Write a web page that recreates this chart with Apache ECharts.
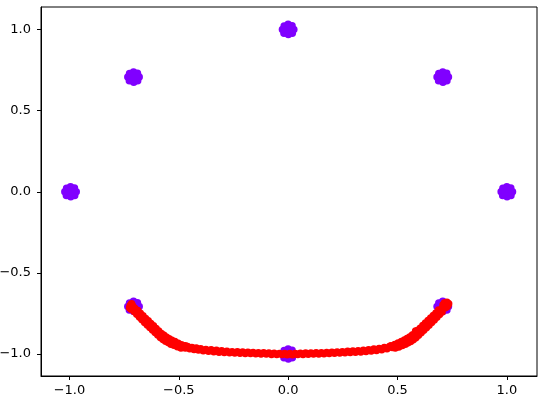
<!DOCTYPE html>
<html>
<head>
<meta charset="utf-8">
<script src="https://cdn.jsdelivr.net/npm/echarts@6/dist/echarts.min.js"></script>
<style>html,body{margin:0;padding:0;background:#fff}#c{width:544px;height:403px}</style>
</head>
<body>
<div id="c"></div>
<script>
const xTicks = [-1.0, -0.5, 0.0, 0.5, 1.0];
const yTicks = [-1.0, -0.5, 0.0, 0.5, 1.0];

const purplePoints = [
  // (0, 1)
  [0.000,1.000],[0.010,1.008],[-0.010,1.007],[-0.009,0.991],[0.011,0.992],[0.026,1.000],[0.018,1.023],[0.000,1.032],[-0.018,1.022],[-0.026,1.001],[-0.019,0.978],[0.001,0.969],[0.019,0.978],
  // (0.707, 0.707)
  [0.707,0.707],[0.717,0.715],[0.697,0.714],[0.698,0.698],[0.718,0.699],[0.733,0.707],[0.725,0.730],[0.707,0.739],[0.689,0.729],[0.681,0.708],[0.688,0.685],[0.708,0.676],[0.726,0.685],
  // (-0.707, 0.707)
  [-0.707,0.707],[-0.697,0.715],[-0.717,0.714],[-0.716,0.698],[-0.696,0.699],[-0.681,0.707],[-0.689,0.730],[-0.707,0.739],[-0.725,0.729],[-0.733,0.708],[-0.726,0.685],[-0.706,0.676],[-0.688,0.685],
  // (-1, 0)
  [-0.995,0.000],[-0.985,0.008],[-1.005,0.007],[-1.004,-0.009],[-0.984,-0.008],[-0.969,0.000],[-0.977,0.023],[-0.995,0.032],[-1.013,0.022],[-1.021,0.001],[-1.014,-0.022],[-0.994,-0.031],[-0.976,-0.022],
  // (1, 0)
  [1.000,0.000],[1.010,0.008],[0.990,0.007],[0.991,-0.009],[1.011,-0.008],[1.026,0.000],[1.018,0.023],[1.000,0.032],[0.982,0.022],[0.974,0.001],[0.981,-0.022],[1.001,-0.031],[1.019,-0.022],
  // (-0.707, -0.707)
  [-0.707,-0.707],[-0.697,-0.699],[-0.717,-0.700],[-0.716,-0.716],[-0.696,-0.715],[-0.681,-0.707],[-0.689,-0.684],[-0.707,-0.675],[-0.725,-0.685],[-0.733,-0.706],[-0.726,-0.729],[-0.706,-0.738],[-0.688,-0.729],
  // (0, -1)
  [0.000,-1.000],[0.010,-0.992],[-0.010,-0.993],[-0.009,-1.009],[0.011,-1.008],[0.026,-1.000],[0.018,-0.977],[0.000,-0.968],[-0.018,-0.978],[-0.026,-0.999],[-0.019,-1.022],[0.001,-1.031],[0.019,-1.022],
  // (0.707, -0.707)
  [0.707,-0.707],[0.717,-0.699],[0.697,-0.700],[0.698,-0.716],[0.718,-0.715],[0.733,-0.707],[0.725,-0.684],[0.707,-0.675],[0.689,-0.685],[0.681,-0.706],[0.688,-0.729],[0.708,-0.738],[0.726,-0.729]
];

const redPoints = [
  [-0.722,-0.700],[-0.716,-0.690],[-0.708,-0.712],[-0.725,-0.715],[-0.712,-0.702],[-0.702,-0.718],[-0.718,-0.724],
  [-0.700,-0.722],[-0.695,-0.741],[-0.690,-0.734],[-0.684,-0.758],[-0.678,-0.753],[-0.672,-0.777],[-0.666,-0.767],
  [-0.660,-0.785],[-0.654,-0.787],[-0.648,-0.806],[-0.642,-0.798],[-0.636,-0.822],[-0.630,-0.814],[-0.624,-0.836],
  [-0.618,-0.832],[-0.612,-0.853],[-0.606,-0.848],[-0.600,-0.868],[-0.593,-0.863],[-0.586,-0.884],[-0.579,-0.880],
  [-0.572,-0.900],[-0.565,-0.894],[-0.558,-0.913],[-0.550,-0.910],[-0.542,-0.928],[-0.534,-0.921],[-0.526,-0.937],
  [-0.704,-0.738],[-0.692,-0.754],[-0.680,-0.772],[-0.668,-0.788],[-0.656,-0.805],[-0.644,-0.820],[-0.632,-0.836],
  [-0.620,-0.851],[-0.608,-0.867],[-0.596,-0.882],[-0.584,-0.898],[-0.572,-0.910],[-0.560,-0.921],
  [-0.548,-0.929],[-0.536,-0.939],[-0.522,-0.946],[-0.506,-0.955],[-0.490,-0.962],
  [-0.688,-0.731],[-0.676,-0.748],[-0.664,-0.764],[-0.652,-0.780],[-0.640,-0.795],[-0.628,-0.811],[-0.616,-0.826],
  [-0.604,-0.842],[-0.592,-0.857],[-0.580,-0.873],[-0.568,-0.884],[-0.556,-0.896],[-0.544,-0.906],
  [-0.532,-0.914],[-0.518,-0.923],[-0.503,-0.933],[-0.488,-0.942],[-0.470,-0.949],
  [-0.518,-0.929],[-0.510,-0.946],[-0.500,-0.941],[-0.490,-0.956],[-0.480,-0.948],[-0.470,-0.962],[-0.460,-0.953],
  [-0.450,-0.967],[-0.440,-0.959],[-0.430,-0.971],[-0.420,-0.963],[-0.410,-0.975],[-0.400,-0.967],[-0.388,-0.979],
  [-0.376,-0.972],[-0.364,-0.982],[-0.352,-0.974],[-0.340,-0.985],[-0.328,-0.977],[-0.316,-0.988],[-0.304,-0.980],
  [-0.292,-0.990],[-0.280,-0.983],[-0.268,-0.992],[-0.256,-0.985],[-0.244,-0.994],[-0.232,-0.986],[-0.220,-0.995],
  [-0.208,-0.987],[-0.196,-0.996],[-0.184,-0.988],[-0.172,-0.997],[-0.160,-0.990],[-0.148,-0.998],[-0.136,-0.991],
  [-0.124,-0.999],[-0.112,-0.992],[-0.100,-1.000],[-0.088,-0.994],[-0.076,-1.002],[-0.064,-0.995],[-0.052,-1.003],
  [-0.040,-0.996],[-0.028,-1.003],[-0.016,-0.997],[-0.004,-1.004],
  [0.008,-0.997],[0.020,-1.004],[0.032,-0.996],[0.044,-1.003],[0.056,-0.995],[0.068,-1.002],[0.080,-0.994],
  [0.092,-1.001],[0.104,-0.993],[0.116,-1.000],[0.128,-0.992],[0.140,-0.999],[0.152,-0.991],[0.164,-0.998],
  [0.176,-0.990],[0.188,-0.997],[0.200,-0.988],[0.212,-0.995],[0.224,-0.987],[0.236,-0.994],[0.248,-0.985],
  [0.260,-0.992],[0.272,-0.983],[0.284,-0.990],[0.296,-0.981],[0.308,-0.989],[0.320,-0.979],[0.332,-0.987],
  [0.344,-0.976],[0.356,-0.984],[0.368,-0.973],[0.380,-0.981],[0.392,-0.969],[0.404,-0.978],[0.416,-0.965],
  [0.428,-0.973],[0.440,-0.960],[0.452,-0.967],[0.464,-0.953],[0.476,-0.960],[0.488,-0.944],[0.500,-0.951],
  [0.510,-0.935],[0.520,-0.938],[0.530,-0.923],[0.540,-0.928],[0.550,-0.910],[0.558,-0.912],[0.566,-0.893],
  [0.574,-0.897],[0.582,-0.878],[0.583,-0.858],[0.590,-0.879],[0.597,-0.860],[0.604,-0.862],[0.611,-0.842],
  [0.618,-0.843],[0.625,-0.823],[0.632,-0.826],[0.639,-0.805],[0.646,-0.807],[0.653,-0.787],[0.660,-0.790],
  [0.667,-0.768],[0.674,-0.771],[0.681,-0.750],[0.688,-0.751],[0.694,-0.733],[0.700,-0.735],[0.706,-0.718],
  [0.704,-0.740],[0.692,-0.756],[0.680,-0.773],[0.668,-0.790],[0.656,-0.806],[0.644,-0.822],[0.632,-0.838],
  [0.620,-0.853],[0.608,-0.869],[0.596,-0.884],[0.584,-0.899],[0.572,-0.911],[0.560,-0.922],
  [0.548,-0.930],[0.536,-0.940],[0.522,-0.947],[0.506,-0.956],[0.490,-0.962],
  [0.688,-0.729],[0.676,-0.746],[0.664,-0.762],[0.652,-0.778],[0.640,-0.793],[0.628,-0.809],[0.616,-0.824],
  [0.604,-0.840],[0.592,-0.855],[0.580,-0.871],[0.568,-0.882],[0.556,-0.894],[0.544,-0.904],
  [0.532,-0.913],[0.518,-0.922],[0.503,-0.932],[0.488,-0.941],[0.470,-0.948],
  [0.712,-0.705],[0.720,-0.695],[0.726,-0.708],[0.708,-0.698],[0.718,-0.715],[0.730,-0.700],[0.714,-0.688],
  [0.726,-0.680],[0.734,-0.690],[0.716,-0.684]
];

const fmt = v => (v < 0 ? '\u2212' : '') + Math.abs(v).toFixed(1);
const labelStyle = { color: '#000', fontFamily: 'DejaVu Sans', fontSize: 13 };

const chart = echarts.init(document.getElementById('c'), null, { renderer: 'canvas' });
chart.setOption({
  animation: false,
  backgroundColor: '#fff',
  grid: { left: 41, right: 7, top: 7, bottom: 27, show: true, borderColor: '#000', borderWidth: 1, backgroundColor: 'transparent', containLabel: false, outerBoundsMode: 'none' },
  xAxis: {
    type: 'value', min: -1.130, max: 1.138,
    splitLine: { show: false },
    axisLine: { show: true, onZero: false, lineStyle: { color: '#000', width: 1 } },
    axisTick: { show: true, length: 4, lineStyle: { color: '#000' }, customValues: xTicks },
    axisLabel: Object.assign({ margin: 8, formatter: fmt, customValues: xTicks }, labelStyle)
  },
  yAxis: {
    type: 'value', min: -1.135, max: 1.139,
    splitLine: { show: false },
    axisLine: { show: true, onZero: false, lineStyle: { color: '#000', width: 1 } },
    axisTick: { show: true, length: 4, lineStyle: { color: '#000' }, customValues: yTicks },
    axisLabel: Object.assign({ margin: 10, formatter: fmt, customValues: yTicks }, labelStyle)
  },
  series: [
    { type: 'scatter', data: purplePoints, symbolSize: 7.5, itemStyle: { color: '#8000ff', opacity: 1 } },
    { type: 'scatter', data: redPoints, symbolSize: 7.5, itemStyle: { color: '#ff0000', opacity: 1 } }
  ]
});
</script>
</body>
</html>
